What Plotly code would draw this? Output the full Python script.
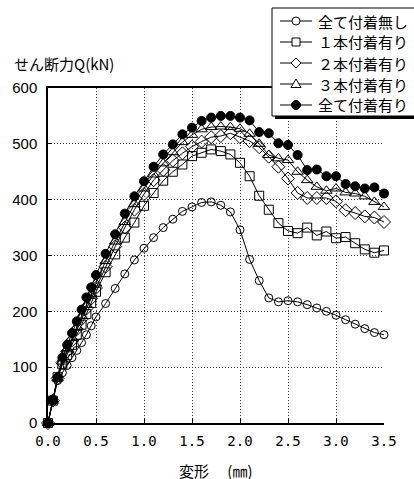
import plotly.graph_objects as go

# Displacement steps (mm)
disp = [0.0, 0.05, 0.1, 0.15, 0.2, 0.25, 0.3, 0.35, 0.4, 0.45, 0.5,
        0.6, 0.7, 0.8, 0.9, 1.0, 1.1, 1.2, 1.3, 1.4, 1.5,
        1.6, 1.7, 1.8, 1.9, 2.0, 2.1, 2.2, 2.3, 2.4, 2.5,
        2.6, 2.7, 2.8, 2.9, 3.0, 3.1, 3.2, 3.3, 3.4, 3.5]

# Shear force Q (kN) for each bonding condition
q_none = [0, 40, 76, 90, 103, 117, 130, 144, 158, 174, 190,
          214, 241, 267, 292, 313, 332, 350, 365, 379, 387,
          395, 396, 390, 378, 346, 293, 255, 224, 217, 219,
          217, 212, 206, 200, 193, 185, 177, 169, 162, 158]
q_one = [0, 40, 82, 105, 122, 140, 158, 176, 195, 215, 235,
         270, 302, 332, 359, 389, 412, 434, 450, 463, 478,
         484, 490, 487, 481, 466, 442, 407, 382, 358, 344,
         340, 350, 336, 343, 331, 333, 322, 311, 305, 309]
q_two = [0, 40, 80, 108, 128, 148, 168, 186, 205, 223, 242,
         280, 316, 350, 382, 410, 435, 453, 470, 483, 495,
         504, 512, 514, 519, 512, 505, 494, 477, 459, 438,
         412, 403, 403, 403, 397, 381, 376, 370, 368, 360]
q_three = [0, 40, 80, 110, 132, 152, 172, 192, 212, 230, 250,
           290, 325, 360, 392, 420, 445, 465, 485, 503, 516,
           526, 530, 531, 530, 527, 518, 500, 480, 474, 471,
           450, 435, 423, 416, 420, 413, 411, 406, 396, 387]
q_all = [0, 42, 82, 117, 140, 161, 182, 203, 225, 243, 265,
         303, 338, 375, 406, 433, 459, 481, 499, 517, 529,
         541, 547, 550, 550, 547, 542, 521, 519, 501, 498,
         480, 453, 454, 442, 442, 428, 424, 420, 422, 411]

series_names = ["全て付着無し", "１本付着有り", "２本付着有り", "３本付着有り", "全て付着有り"]
series_values = [q_none, q_one, q_two, q_three, q_all]

x_tick_vals = [0.0, 0.5, 1.0, 1.5, 2.0, 2.5, 3.0, 3.5]
x_tick_text = ["0.0", "0.5", "1.0", "1.5", "2.0", "2.5", "3.0", "3.5"]
y_tick_vals = [0, 100, 200, 300, 400, 500, 600]

symbols = ["circle-open", "square-open", "diamond-open", "triangle-up-open", "circle"]
marker_sizes = [8, 9, 10, 10, 9]

W, H = 414, 479
ML, MR, MT, MB = 48, 30, 88, 56
PW, PH = W - ML - MR, H - MT - MB


def pxx(p):
    """pixel x -> paper x"""
    return (p - ML) / PW


def pxy(p):
    """pixel y (from top) -> paper y"""
    return (H - MB - p) / PH


fig = go.Figure()

for name, q, sym, size in zip(series_names, series_values, symbols, marker_sizes):
    fig.add_trace(go.Scatter(
        x=disp, y=q, name=name, mode="lines+markers",
        line=dict(color="black", width=1),
        marker=dict(symbol=sym, size=size, color="black",
                    line=dict(color="black", width=1)),
        cliponaxis=False, showlegend=False,
    ))

# ---- legend: framed box with drop shadow, keys drawn as shapes ----
shapes = [
    dict(type="rect", xref="paper", yref="paper",
         x0=pxx(275), x1=pxx(440), y0=pxy(119), y1=pxy(11),
         fillcolor="black", line=dict(width=0), layer="above"),
    dict(type="rect", xref="paper", yref="paper",
         x0=pxx(272), x1=pxx(437), y0=pxy(116), y1=pxy(8),
         fillcolor="white", line=dict(color="black", width=1), layer="above"),
]

key_paths = [
    None,
    None,
    "M -5 0 L 0 5 L 5 0 L 0 -5 Z",
    "M -5 -3.5 L 5 -3.5 L 0 5 Z",
    None,
]
legend_rows = [21, 42, 63, 84, 105]
key_x = 296
for i, (name, row) in enumerate(zip(series_names, legend_rows)):
    yp = pxy(row)
    shapes.append(dict(type="line", xref="paper", yref="paper",
                       x0=pxx(280), x1=pxx(312), y0=yp, y1=yp,
                       line=dict(color="black", width=1), layer="above"))
    common = dict(xref="paper", yref="paper", xsizemode="pixel", ysizemode="pixel",
                  xanchor=pxx(key_x), yanchor=yp, layer="above",
                  line=dict(color="black", width=1))
    if i == 0:
        shapes.append(dict(type="circle", x0=-4, x1=4, y0=-4, y1=4,
                           fillcolor="white", **common))
    elif i == 1:
        shapes.append(dict(type="rect", x0=-4, x1=4, y0=-4, y1=4,
                           fillcolor="white", **common))
    elif i == 4:
        shapes.append(dict(type="circle", x0=-4.5, x1=4.5, y0=-4.5, y1=4.5,
                           fillcolor="black", **common))
    else:
        shapes.append(dict(type="path", path=key_paths[i],
                           fillcolor="white", **common))
    fig.add_annotation(
        x=pxx(316), y=yp, xref="paper", yref="paper",
        text=name, showarrow=False, xanchor="left", yanchor="middle",
        font=dict(family="Noto Sans CJK JP", size=15, color="black"),
    )

fig.add_annotation(
    x=pxx(12), y=pxy(63), xref="paper", yref="paper",
    text="せん断力Q(kN)", showarrow=False, xanchor="left", yanchor="middle",
    font=dict(family="Noto Sans CJK JP", size=15, color="black"),
)
fig.add_annotation(
    x=0.5, y=pxy(470), xref="paper", yref="paper", height=18,
    text="変形　 (㎜)", showarrow=False, xanchor="center", yanchor="middle",
    font=dict(family="Noto Sans CJK JP", size=15, color="black"),
)

grid_style = dict(showgrid=True, gridcolor="#333", griddash="1px,2px", gridwidth=1)

fig.update_layout(
    width=W, height=H,
    margin=dict(l=ML, r=MR, t=MT, b=MB, autoexpand=False),
    paper_bgcolor="white", plot_bgcolor="white",
    shapes=shapes,
    xaxis=dict(
        range=[0, 3.5], tickvals=x_tick_vals, ticktext=x_tick_text,
        tickfont=dict(family="DejaVu Sans Mono", size=14, color="black"),
        showline=True, linecolor="black", linewidth=1.5, mirror=True,
        ticks="inside", ticklen=4, tickcolor="black",
        zeroline=False, ticklabelstandoff=4, **grid_style,
    ),
    yaxis=dict(
        range=[0, 600], tickvals=y_tick_vals,
        tickfont=dict(family="Liberation Sans", size=15, color="black"),
        showline=True, linecolor="black", linewidth=1.5,
        ticks="inside", ticklen=4, tickcolor="black",
        zeroline=False, ticklabelstandoff=6, **grid_style,
    ),
)

fig.write_html("out.html")
